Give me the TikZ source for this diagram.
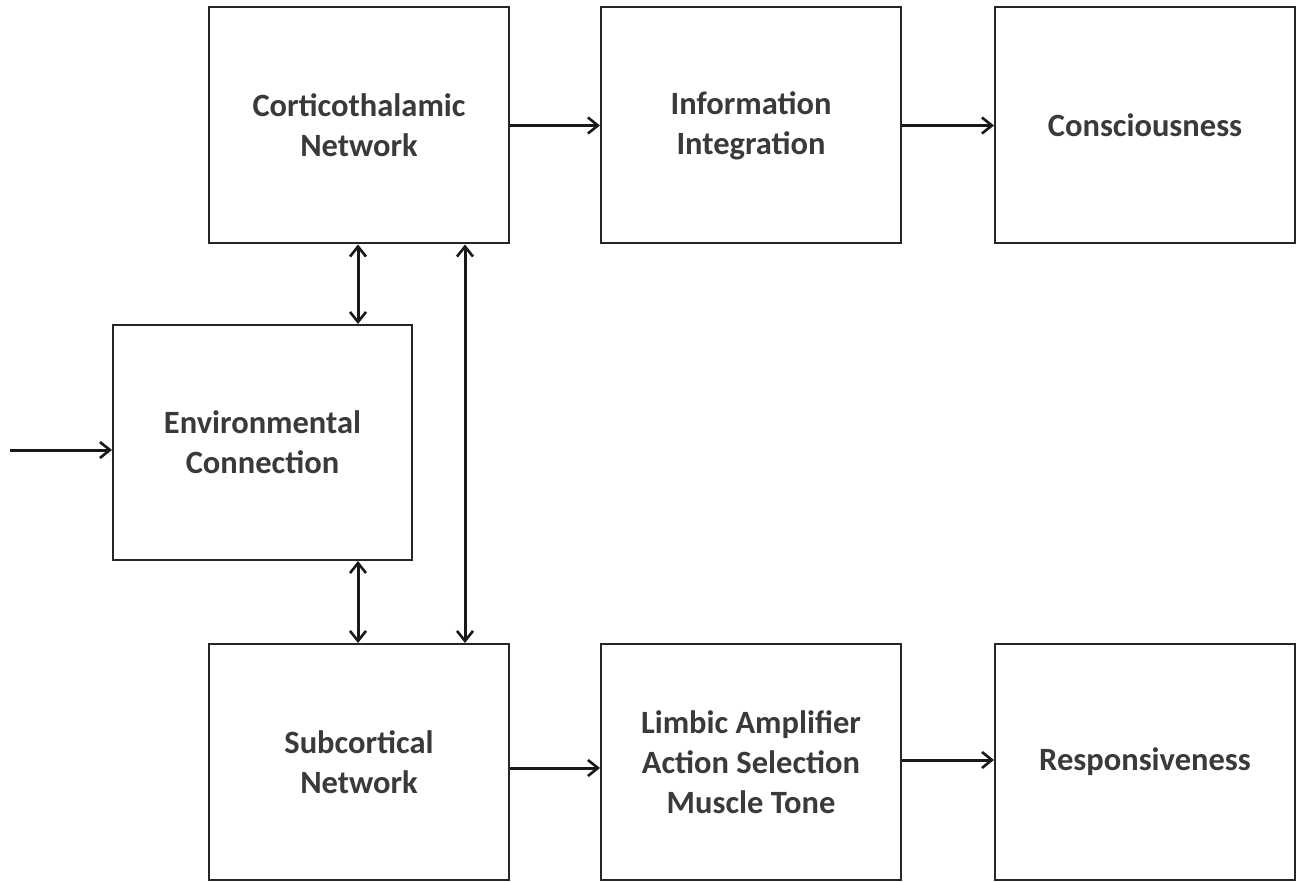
\documentclass[tikz,border=0pt]{standalone}
\usepackage{fontspec}
\setmainfont{Carlito}
\usetikzlibrary{arrows.meta}
\definecolor{txt}{HTML}{3A3A3A}
\begin{document}
\begin{tikzpicture}[x=1pt,y=-1pt,
  blk/.style={draw=black!85,line width=2pt,minimum width=300pt,minimum height=236pt,inner sep=0pt,
    align=center,font=\fontsize{32.5}{40}\selectfont\bfseries,text=txt},
  tip/.style={Straight Barb[length=10pt,width=16pt,line width=2.6pt]},
  conn/.style={line width=3pt,black!90,-{Straight Barb[length=10pt,width=16pt,line width=2.6pt]}},
  dconn/.style={line width=3pt,black!90,{Straight Barb[length=10pt,width=16pt,line width=2.6pt]}-{Straight Barb[length=10pt,width=16pt,line width=2.6pt]}}]
\useasboundingbox[fill=white] (0,0) rectangle (1301,882);
\node[blk] (cort) at (359,125.5) {Corticothalamic\\Network};
\node[blk] (info) at (751,125.5) {Information\\Integration};
\node[blk] (cons) at (1145,125.5) {Consciousness};
\node[blk,minimum height=235pt,minimum width=299pt] (env) at (262.5,442.5) {Environmental\\Connection};
\node[blk] (sub) at (359,762) {Subcortical\\Network};
\node[blk] (limb) at (751,762) {Limbic Amplifier\\Action Selection\\Muscle Tone};
\node[blk] (resp) at (1145,762) {Responsiveness};
\coordinate (in) at (10,450);
\coordinate (a1) at (358,0);
\coordinate (a2) at (465,0);
\coordinate (h1) at (0,768);
\coordinate (h2) at (0,760);
\draw[conn] (cort) -- (info);
\draw[conn] (info) -- (cons);
\draw[conn] (sub.east |- h1) -- (limb.west |- h1);
\draw[conn] (limb.east |- h2) -- (resp.west |- h2);
\draw[conn] (in) -- (env.west |- in);
\draw[dconn] (cort.south -| a1) -- (env.north -| a1);
\draw[dconn] (env.south -| a1) -- (sub.north -| a1);
\draw[dconn] (cort.south -| a2) -- (sub.north -| a2);
\end{tikzpicture}
\end{document}
